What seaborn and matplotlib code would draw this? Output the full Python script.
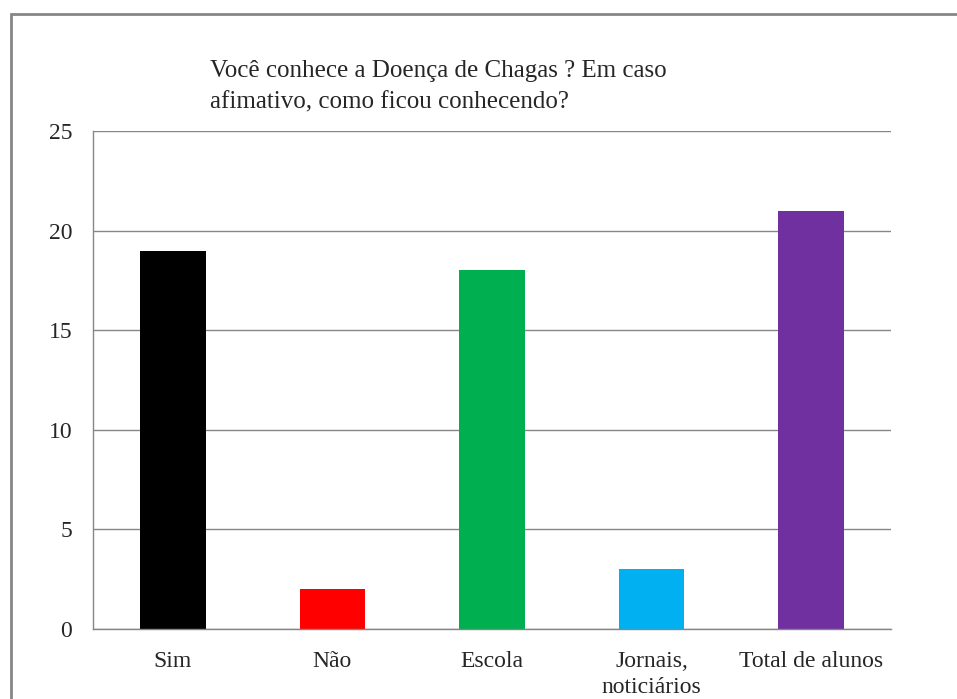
import matplotlib
matplotlib.use("Agg")
import matplotlib.pyplot as plt
import matplotlib.patches as mpatches
import pandas as pd
import seaborn as sns

CATEGORIES = ["Sim", "Não", "Escola", "Jornais,\nnoticiários", "Total de alunos"]
VALUES = [19, 2, 18, 3, 21]
BAR_COLORS = ["#000000", "#FF0000", "#00B050", "#00B0F0", "#7030A0"]
Y_TICKS = [0, 5, 10, 15, 20, 25]
TITLE = "Você conhece a Doença de Chagas ? Em caso\nafimativo, como ficou conhecendo?"

GRAY = "#868686"


def main() -> None:
    sns.set_theme(style="white")
    plt.rcParams["font.family"] = ["Liberation Serif", "DejaVu Serif"]

    data = pd.DataFrame({"categoria": CATEGORIES, "valor": VALUES})

    fig = plt.figure(figsize=(9.57, 6.99), dpi=100)
    ax = fig.add_axes([93 / 957, 1 - 629 / 699, (891 - 93) / 957, (629 - 131) / 699])

    sns.barplot(
        data=data,
        x="categoria",
        y="valor",
        hue="categoria",
        palette=BAR_COLORS,
        order=CATEGORIES,
        hue_order=CATEGORIES,
        width=0.41,
        legend=False,
        saturation=1,
        linewidth=0,
        ax=ax,
    )

    ax.set_ylim(0, 25)
    ax.set_xlim(-0.5, len(CATEGORIES) - 0.5)
    ax.set_yticks(Y_TICKS)
    ax.set_yticklabels([str(t) for t in Y_TICKS], fontsize=17)
    ax.yaxis.grid(True, color=GRAY, linewidth=1)
    ax.set_axisbelow(True)
    ax.set_xlabel("")
    ax.set_ylabel("")

    # category labels centred, ticks on the boundaries
    ax.set_xticks(range(len(CATEGORIES)))
    ax.set_xticklabels(CATEGORIES, fontsize=17, linespacing=1.3)
    ax.tick_params(axis="x", length=0, pad=16)
    ax.set_xticks([i - 0.5 for i in range(len(CATEGORIES) + 1)], minor=True)
    ax.tick_params(axis="x", which="minor", length=6, color=GRAY, width=1, direction="out")
    ax.tick_params(axis="y", length=6, color=GRAY, width=1, direction="out", pad=9)

    for side in ["top", "right"]:
        ax.spines[side].set_visible(False)
    for side in ["left", "bottom"]:
        ax.spines[side].set_color(GRAY)
        ax.spines[side].set_linewidth(1)

    fig.text(210 / 957, 1 - 60 / 699, TITLE, ha="left", va="top", fontsize=18,
             linespacing=1.55)

    border = mpatches.Rectangle(
        (11 / 957, -0.2), 1.2, 1.2 + (699 - 14) / 699 - 1.0,
        transform=fig.transFigure, fill=False, edgecolor=GRAY, linewidth=2,
        clip_on=False,
    )
    fig.patches.append(border)

    fig.savefig("out.png", dpi=100)


if __name__ == "__main__":
    main()
